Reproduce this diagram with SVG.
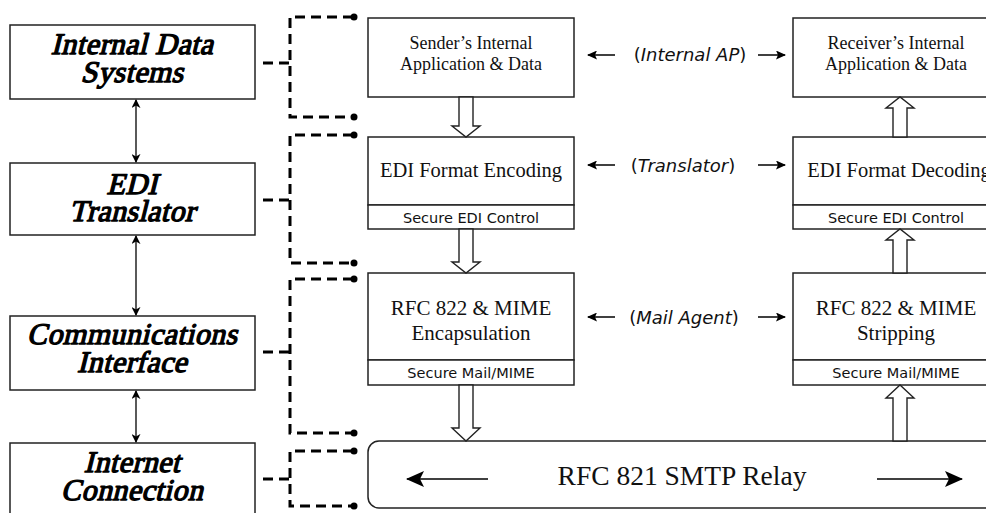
<svg xmlns="http://www.w3.org/2000/svg" width="986" height="513" viewBox="0 0 986 513">
  <defs>
    <style>
      .box { fill: #fff; stroke: #222; stroke-width: 1.5; }
      .ttl { font-family: "Liberation Serif", "Times New Roman", serif; font-size: 30px; letter-spacing: 0.4px; fill: #000; stroke: #000; stroke-width: 1.3; stroke-linejoin: round; text-anchor: middle; }
      .stage { font-family: "Liberation Serif", "Times New Roman", serif; fill: #111; text-anchor: middle; }
      .sec { font-family: "DejaVu Sans", Verdana, sans-serif; font-size: 14.5px; fill: #111; text-anchor: middle; }
      .role { font-family: "DejaVu Sans", Verdana, sans-serif; font-size: 18px; fill: #111; text-anchor: middle; }
      .dash { fill: none; stroke: #000; stroke-width: 3; stroke-dasharray: 10 6; }
      .dot { fill: #000; }
      .thin { fill: none; stroke: #000; stroke-width: 1.3; }
      .hollow { fill: #fff; stroke: #222; stroke-width: 1.4; stroke-linejoin: miter; }
      .line { fill: none; stroke: #000; stroke-width: 1.5; }
    </style>
    <marker id="tip" viewBox="0 0 10 10" refX="9" refY="5" markerWidth="9" markerHeight="9" markerUnits="userSpaceOnUse" orient="auto-start-reverse">
      <path d="M0,0 L10,5 L0,10 L3,5 Z" fill="#000"/>
    </marker>
    <marker id="head" viewBox="0 0 10 9" refX="9" refY="4.5" markerWidth="10" markerHeight="9" markerUnits="userSpaceOnUse" orient="auto">
      <path d="M0,0 L10,4.5 L0,9 L2,4.5 Z" fill="#000"/>
    </marker>
    <marker id="bighead" viewBox="0 0 18 16" refX="17" refY="8" markerWidth="18" markerHeight="16" markerUnits="userSpaceOnUse" orient="auto">
      <path d="M0,0 L18,8 L0,16 L4,8 Z" fill="#000"/>
    </marker>
  </defs>

  <!-- layer stack on the left; titles are slanted, heavy serif -->
  <g id="internal-data-systems">
    <rect class="box" x="10" y="25" width="245" height="74"/>
    <text class="ttl" transform="translate(132,54) skewX(-14)">Internal Data</text>
    <text class="ttl" transform="translate(132,82) skewX(-14)">Systems</text>
  </g>
  <g id="edi-translator">
    <rect class="box" x="10" y="163" width="245" height="72"/>
    <text class="ttl" transform="translate(132,194) skewX(-14)">EDI</text>
    <text class="ttl" transform="translate(132,221) skewX(-14)">Translator</text>
  </g>
  <g id="communications-interface">
    <rect class="box" x="10" y="316" width="245" height="74"/>
    <text class="ttl" transform="translate(132,344) skewX(-14)">Communications</text>
    <text class="ttl" transform="translate(132,372) skewX(-14)">Interface</text>
  </g>
  <g id="internet-connection">
    <rect class="box" x="10" y="443" width="245" height="80"/>
    <text class="ttl" transform="translate(132,472) skewX(-14)">Internet</text>
    <text class="ttl" transform="translate(132,500) skewX(-14)">Connection</text>
  </g>

  <!-- sender side -->
  <g id="sender-app">
    <rect class="box" x="368" y="18" width="206" height="79"/>
    <text class="stage" x="471" y="49" font-size="18">Sender’s Internal</text>
    <text class="stage" x="471" y="70" font-size="18">Application &amp; Data</text>
  </g>
  <g id="edi-encoding">
    <rect class="box" x="368" y="137" width="206" height="68"/>
    <rect class="box" x="368" y="205" width="206" height="24"/>
    <text class="stage" x="471" y="177" font-size="20.5">EDI Format Encoding</text>
    <text class="sec" x="471" y="223">Secure EDI Control</text>
  </g>
  <g id="mime-encapsulation">
    <rect class="box" x="368" y="273" width="206" height="87"/>
    <rect class="box" x="368" y="360" width="206" height="25"/>
    <text class="stage" x="471" y="315" font-size="21">RFC 822 &amp; MIME</text>
    <text class="stage" x="471" y="340" font-size="21">Encapsulation</text>
    <text class="sec" x="471" y="378">Secure Mail/MIME</text>
  </g>

  <!-- receiver side -->
  <g id="receiver-app">
    <rect class="box" x="793" y="18" width="206" height="79"/>
    <text class="stage" x="896" y="49" font-size="18">Receiver’s Internal</text>
    <text class="stage" x="896" y="70" font-size="18">Application &amp; Data</text>
  </g>
  <g id="edi-decoding">
    <rect class="box" x="793" y="137" width="206" height="68"/>
    <rect class="box" x="793" y="205" width="206" height="24"/>
    <text class="stage" x="899" y="177" font-size="20.5">EDI Format Decoding</text>
    <text class="sec" x="896" y="223">Secure EDI Control</text>
  </g>
  <g id="mime-stripping">
    <rect class="box" x="793" y="273" width="206" height="87"/>
    <rect class="box" x="793" y="360" width="206" height="25"/>
    <text class="stage" x="896" y="315" font-size="21">RFC 822 &amp; MIME</text>
    <text class="stage" x="896" y="340" font-size="21">Stripping</text>
    <text class="sec" x="896" y="378">Secure Mail/MIME</text>
  </g>

  <!-- relay bar along the bottom -->
  <g id="smtp-relay">
    <rect class="box" x="368" y="441" width="640" height="67" rx="11" ry="11"/>
    <text class="stage" x="682" y="485" font-size="27.5">RFC 821 SMTP Relay</text>
    <line class="line" x1="488" y1="479" x2="407" y2="479" marker-end="url(#bighead)"/>
    <line class="line" x1="877" y1="479" x2="962" y2="479" marker-end="url(#bighead)"/>
  </g>

  <!-- peer role labels -->
  <g id="role-internal-ap">
    <text class="role" x="690" y="61">(<tspan font-style="italic">Internal AP</tspan>)</text>
  </g>
  <g id="role-translator">
    <text class="role" x="683" y="172">(<tspan font-style="italic">Translator</tspan>)</text>
  </g>
  <g id="role-mail-agent">
    <text class="role" x="684" y="324">(<tspan font-style="italic">Mail Agent</tspan>)</text>
  </g>

  <g id="connectors">
    <!-- layer-to-layer links -->
    <line class="thin" x1="136" y1="100" x2="136" y2="162" marker-start="url(#tip)" marker-end="url(#tip)"/>
    <line class="thin" x1="136" y1="236" x2="136" y2="315" marker-start="url(#tip)" marker-end="url(#tip)"/>
    <line class="thin" x1="136" y1="391" x2="136" y2="442" marker-start="url(#tip)" marker-end="url(#tip)"/>

    <!-- dashed brackets from each layer to its stage -->
    <path class="dash" d="M263,63 H290 M353,17 H290 V117 H353"/>
    <circle class="dot" cx="354" cy="17" r="3.5"/>
    <circle class="dot" cx="354" cy="117" r="3.5"/>
    <path class="dash" d="M263,200 H290 M353,135 H290 V263 H353"/>
    <circle class="dot" cx="354" cy="135" r="3.5"/>
    <circle class="dot" cx="354" cy="263" r="3.5"/>
    <path class="dash" d="M263,352 H290 M353,279 H290 V433 H353"/>
    <circle class="dot" cx="354" cy="279" r="3.5"/>
    <circle class="dot" cx="354" cy="433" r="3.5"/>
    <path class="dash" d="M263,479 H290 M353,451 H290 V506 H353"/>
    <circle class="dot" cx="354" cy="451" r="3.5"/>
    <circle class="dot" cx="354" cy="506" r="3.5"/>

    <!-- hollow flow arrows, sender going down -->
    <path class="hollow" d="M459,97 V126 H452 L466,137 L480,126 H473 V97 Z"/>
    <path class="hollow" d="M459,229 V262 H452 L466,273 L480,262 H473 V229 Z"/>
    <path class="hollow" d="M459,385 V428 H452 L466,441 L480,428 H473 V385 Z"/>

    <!-- hollow flow arrows, receiver going up -->
    <path class="hollow" d="M893,137 V108 H886 L900,97 L914,108 H907 V137 Z"/>
    <path class="hollow" d="M893,273 V240 H886 L900,229 L914,240 H907 V273 Z"/>
    <path class="hollow" d="M893,441 V398 H886 L900,385 L914,398 H907 V441 Z"/>

    <!-- peer role arrows -->
    <line class="line" x1="615" y1="55" x2="588" y2="55" marker-end="url(#head)"/>
    <line class="line" x1="758" y1="55" x2="785" y2="55" marker-end="url(#head)"/>
    <line class="line" x1="615" y1="165" x2="588" y2="165" marker-end="url(#head)"/>
    <line class="line" x1="758" y1="165" x2="785" y2="165" marker-end="url(#head)"/>
    <line class="line" x1="615" y1="317" x2="588" y2="317" marker-end="url(#head)"/>
    <line class="line" x1="758" y1="317" x2="785" y2="317" marker-end="url(#head)"/>
  </g>
</svg>
